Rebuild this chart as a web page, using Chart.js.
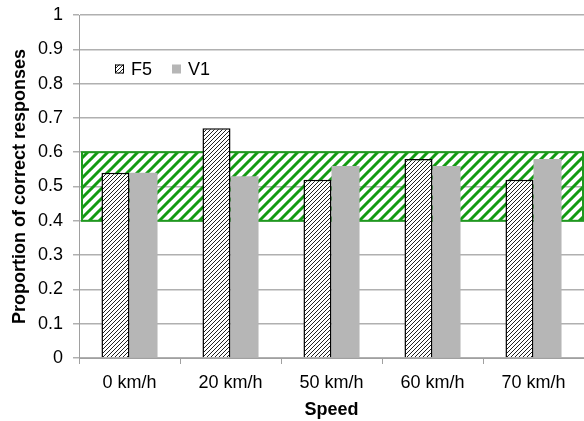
<!DOCTYPE html>
<html>
<head>
<meta charset="utf-8">
<script src="https://cdn.jsdelivr.net/npm/chart.js@4/dist/chart.umd.min.js"></script>
<style>
  html, body { margin: 0; padding: 0; background: #fff; }
  #wrap { width: 584px; height: 421px; }
</style>
</head>
<body>
<div id="wrap"><canvas id="chart"></canvas></div>
<script>
// Data
const speeds = ['0 km/h', '20 km/h', '50 km/h', '60 km/h', '70 km/h'];
const f5Values = [0.54, 0.67, 0.52, 0.58, 0.52];
const v1Values = [0.54, 0.53, 0.56, 0.56, 0.58];
const bandRange = [0.4, 0.6];

const FONT = '"Liberation Sans", Arial, sans-serif';

// Diagonal hatch pattern helper
function makeHatch(size, lineWidth, color, bg) {
  const c = document.createElement('canvas');
  c.width = size; c.height = size;
  const g = c.getContext('2d');
  if (bg) { g.fillStyle = bg; g.fillRect(0, 0, size, size); }
  g.strokeStyle = color;
  g.lineWidth = lineWidth;
  g.beginPath();
  g.moveTo(0, size); g.lineTo(size, 0);
  g.moveTo(-1, 1); g.lineTo(1, -1);
  g.moveTo(size - 1, size + 1); g.lineTo(size + 1, size - 1);
  g.stroke();
  return g.createPattern(c, 'repeat');
}

const canvas = document.getElementById('chart');
const f5Pattern = makeHatch(4, 1, '#222', '#fff');
const greenPattern = makeHatch(10, 3, '#129a12', null);

// Green hatched band behind the bars
const bandPlugin = {
  id: 'band',
  beforeDatasetsDraw(chart) {
    const { ctx, chartArea, scales } = chart;
    const yTop = scales.y.getPixelForValue(bandRange[1]);
    const yBot = scales.y.getPixelForValue(bandRange[0]);
    const x0 = chartArea.left + 3;
    const x1 = chartArea.right - 1;
    ctx.save();
    ctx.fillStyle = greenPattern;
    ctx.fillRect(x0, yTop, x1 - x0, yBot - yTop);
    ctx.strokeStyle = '#1f9a1f';
    ctx.lineWidth = 2;
    ctx.strokeRect(x0, yTop, x1 - x0, yBot - yTop);
    ctx.restore();
  }
};

// Legend drawn inside the plot area
const innerLegend = {
  id: 'innerLegend',
  afterDraw(chart) {
    const { ctx, chartArea } = chart;
    const ds = chart.data.datasets;
    let x = chartArea.left + 36;
    const y = chartArea.top + 54;
    ctx.save();
    ctx.font = '18px ' + FONT;
    ctx.textBaseline = 'middle';
    ds.forEach((d, i) => {
      ctx.fillStyle = d.backgroundColor;
      ctx.fillRect(x, y - 4.5, 9, 9);
      if (i === 0) {
        ctx.strokeStyle = '#000';
        ctx.lineWidth = 1;
        ctx.strokeRect(x + 0.5, y - 4, 8, 8);
      }
      ctx.fillStyle = '#000';
      ctx.fillText(d.label, x + 16, y + 1);
      x += 57;
    });
    ctx.restore();
  }
};

new Chart(canvas, {
  type: 'bar',
  data: {
    labels: speeds,
    datasets: [
      {
        label: 'F5',
        data: f5Values,
        backgroundColor: f5Pattern,
        borderColor: '#000',
        borderWidth: 1.5
      },
      {
        label: 'V1',
        data: v1Values,
        backgroundColor: '#b6b6b6',
        borderWidth: 0
      }
    ]
  },
  options: {
    responsive: true,
    maintainAspectRatio: false,
    animation: false,
    layout: { padding: { top: 15, right: 0, left: 0, bottom: 0 } },
    datasets: {
      bar: { categoryPercentage: 0.555, barPercentage: 1 }
    },
    plugins: {
      legend: { display: false },
      tooltip: { enabled: false }
    },
    scales: {
      x: {
        afterFit(scale) { scale.height = 63; },
        grid: { offset: true, drawOnChartArea: false, tickLength: 6, color: '#a0a0a0' },
        border: { color: '#a0a0a0' },
        ticks: { color: '#000', font: { family: FONT, size: 18 }, padding: 8 },
        title: {
          display: true,
          text: 'Speed',
          color: '#000',
          font: { family: FONT, size: 18, weight: 'bold' },
          padding: { top: 0, bottom: 0 }
        }
      },
      y: {
        min: 0,
        max: 1,
        afterFit(scale) {
          scale.width = 79;
          scale.paddingTop = 0;
          scale.paddingBottom = 0;
        },
        ticks: {
          stepSize: 0.1,
          color: '#000',
          font: { family: FONT, size: 18 },
          padding: 10,
          callback: (v) => String(+v.toFixed(1))
        },
        grid: { color: '#b0b0b0', lineWidth: 1.5, tickLength: 6 },
        border: { color: '#a0a0a0' },
        title: {
          display: true,
          text: 'Proportion of correct responses',
          color: '#000',
          font: { family: FONT, size: 18, weight: 'bold' },
          padding: { top: 9, bottom: 0 }
        }
      }
    }
  },
  plugins: [bandPlugin, innerLegend]
});
</script>
</body>
</html>
